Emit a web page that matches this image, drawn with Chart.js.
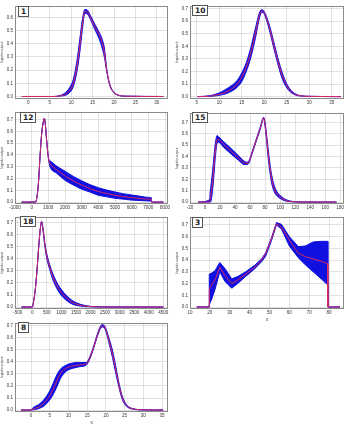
<!DOCTYPE html>
<html>
<head>
<meta charset="utf-8">
<script src="https://cdn.jsdelivr.net/npm/chart.js@4.4.1/dist/chart.umd.min.js"></script>
<style>
  body { margin: 0; background: #fff; width: 350px; height: 426px; position: relative; overflow: hidden; }
  canvas { position: absolute; }
  .tag { position: absolute; border: 1px solid #555; background: #fff; color: #222;
         font: bold 7.5px "DejaVu Sans", sans-serif; line-height: 9px; height: 9px; padding: 0 2px; }
</style>
</head>
<body>
<script>
// ---- data ----
const yTicks = [0, 0.1, 0.2, 0.3, 0.4, 0.5, 0.6, 0.7];

const p1Ticks = [0, 5, 10, 15, 20, 25, 30];
const p1X   = [-1.5, 6, 7.5, 8.5, 9.5, 10.5, 11.3, 12, 12.6, 13.2, 13.8, 14.5, 15.5, 16.5, 17.3, 17.8, 18.3, 19, 20, 21, 23, 31.5];
const p1Mid = [0, 0, 0.005, 0.015, 0.04, 0.1, 0.22, 0.38, 0.54, 0.645, 0.64, 0.6, 0.53, 0.47, 0.40, 0.32, 0.2, 0.09, 0.03, 0.01, 0.002, 0];
const p1Hi  = [0, 0, 0.008, 0.025, 0.06, 0.13, 0.26, 0.43, 0.58, 0.66, 0.655, 0.615, 0.55, 0.49, 0.43, 0.36, 0.21, 0.095, 0.032, 0.011, 0.002, 0];
const p1Lo  = [0, 0, 0.003, 0.008, 0.025, 0.075, 0.18, 0.33, 0.5, 0.63, 0.625, 0.585, 0.51, 0.44, 0.36, 0.29, 0.19, 0.085, 0.028, 0.009, 0.002, 0];

const p10Ticks = [5, 10, 15, 20, 25, 30, 35];
const p10X   = [5.2, 8, 10, 12, 14, 15, 16, 17, 18, 19, 19.5, 20, 21, 22, 23, 24, 25, 26, 27, 28, 30, 37];
const p10Mid = [0, 0.004, 0.018, 0.045, 0.1, 0.155, 0.235, 0.35, 0.5, 0.655, 0.68, 0.665, 0.565, 0.425, 0.285, 0.165, 0.085, 0.038, 0.015, 0.006, 0.002, 0];
const p10Hi  = [0, 0.008, 0.03, 0.07, 0.13, 0.19, 0.27, 0.39, 0.54, 0.675, 0.69, 0.675, 0.585, 0.45, 0.31, 0.19, 0.1, 0.048, 0.02, 0.008, 0.002, 0];
const p10Lo  = [0, 0.002, 0.01, 0.03, 0.075, 0.12, 0.2, 0.31, 0.46, 0.635, 0.67, 0.655, 0.545, 0.4, 0.26, 0.14, 0.07, 0.03, 0.011, 0.004, 0.002, 0];

const p12Ticks = [-1000, 0, 1000, 2000, 3000, 4000, 5000, 6000, 7000, 8000];
const p12X   = [-600, 240, 300, 400, 500, 600, 700, 760, 820, 900, 1000, 1050, 1100, 1500, 2000, 2500, 3000, 3500, 4000, 4500, 5000, 5500, 6000, 6500, 7000, 7180, 7200, 7900];
const p12Mid = [0, 0, 0.03, 0.15, 0.38, 0.58, 0.68, 0.71, 0.66, 0.52, 0.38, 0.34, 0.325, 0.275, 0.222, 0.18, 0.145, 0.115, 0.09, 0.073, 0.058, 0.047, 0.038, 0.031, 0.025, 0.023, 0, 0];
const p12Hi  = [0, 0, 0.03, 0.15, 0.38, 0.58, 0.68, 0.71, 0.66, 0.52, 0.385, 0.355, 0.35, 0.305, 0.262, 0.218, 0.18, 0.148, 0.122, 0.102, 0.086, 0.071, 0.06, 0.05, 0.04, 0.037, 0, 0];
const p12Lo  = [0, 0, 0.03, 0.15, 0.38, 0.58, 0.68, 0.71, 0.66, 0.52, 0.375, 0.33, 0.30, 0.245, 0.185, 0.145, 0.11, 0.085, 0.058, 0.045, 0.032, 0.025, 0.017, 0.013, 0.01, 0.009, 0, 0];

const p15Ticks = [-20, 0, 20, 40, 60, 80, 100, 120, 140, 160, 180];
const p15X   = [-9, 6, 7, 8, 10, 12, 14, 16, 18, 25, 35, 45, 52, 56, 59, 62, 66, 70, 74, 78, 80, 82, 84, 86, 88, 91, 95, 100, 106, 112, 120, 130, 175];
const p15Mid = [0, 0, 0.03, 0.07, 0.18, 0.33, 0.47, 0.55, 0.55, 0.505, 0.445, 0.385, 0.345, 0.34, 0.36, 0.42, 0.5, 0.58, 0.66, 0.74, 0.68, 0.56, 0.43, 0.32, 0.23, 0.14, 0.08, 0.045, 0.02, 0.008, 0.002, 0, 0];
const p15Hi  = [0, 0.02, 0.1, 0.15, 0.27, 0.41, 0.53, 0.585, 0.575, 0.53, 0.47, 0.405, 0.36, 0.35, 0.37, 0.43, 0.51, 0.59, 0.67, 0.745, 0.7, 0.59, 0.47, 0.36, 0.265, 0.17, 0.1, 0.058, 0.028, 0.012, 0.003, 0, 0];
const p15Lo  = [0, 0, 0, 0.01, 0.1, 0.25, 0.41, 0.515, 0.525, 0.48, 0.42, 0.365, 0.33, 0.33, 0.35, 0.41, 0.49, 0.57, 0.65, 0.735, 0.66, 0.53, 0.39, 0.28, 0.19, 0.11, 0.06, 0.032, 0.012, 0.004, 0.001, 0, 0];

const p18Ticks = [-500, 0, 500, 1000, 1500, 2000, 2500, 3000, 3500, 4000, 4500];
const p18X   = [-370, 0, 40, 100, 160, 220, 280, 320, 370, 430, 500, 600, 700, 800, 900, 1000, 1100, 1200, 1300, 1400, 1500, 1650, 1800, 2000, 2300, 4500];
const p18Mid = [0, 0, 0.04, 0.14, 0.3, 0.5, 0.66, 0.71, 0.64, 0.52, 0.42, 0.33, 0.255, 0.2, 0.155, 0.12, 0.092, 0.07, 0.05, 0.036, 0.026, 0.015, 0.009, 0.004, 0.001, 0];
const p18Hi  = [0, 0, 0.04, 0.14, 0.3, 0.5, 0.66, 0.71, 0.65, 0.535, 0.44, 0.35, 0.28, 0.225, 0.18, 0.145, 0.115, 0.09, 0.068, 0.05, 0.037, 0.023, 0.014, 0.006, 0.002, 0];
const p18Lo  = [0, 0, 0.04, 0.14, 0.3, 0.5, 0.66, 0.71, 0.63, 0.505, 0.40, 0.31, 0.23, 0.175, 0.13, 0.095, 0.07, 0.05, 0.033, 0.022, 0.015, 0.008, 0.004, 0.002, 0.0005, 0];

const p3Ticks = [10, 20, 30, 40, 50, 60, 70, 80];
const p3X   = [13.4, 19.6, 19.7, 21, 22.6, 25, 27.5, 31, 34, 38, 42.5, 46, 48, 51, 53.5, 56, 60, 64.5, 68, 72, 76, 79.2, 79.4, 85.5];
const p3Mid = [0, 0, 0.15, 0.19, 0.23, 0.34, 0.27, 0.2, 0.23, 0.28, 0.34, 0.4, 0.45, 0.58, 0.71, 0.68, 0.57, 0.46, 0.43, 0.41, 0.39, 0.37, 0, 0];
const p3Hi  = [0, 0, 0.28, 0.29, 0.31, 0.38, 0.33, 0.24, 0.26, 0.3, 0.355, 0.41, 0.46, 0.59, 0.72, 0.705, 0.6, 0.515, 0.52, 0.555, 0.56, 0.56, 0, 0];
const p3Lo  = [0, 0, 0.02, 0.07, 0.15, 0.3, 0.22, 0.16, 0.2, 0.26, 0.325, 0.385, 0.43, 0.565, 0.70, 0.665, 0.52, 0.42, 0.36, 0.3, 0.24, 0.19, 0, 0];

const p8Ticks = [0, 5, 10, 15, 20, 25, 30, 35];
const p8X   = [-2.7, 0, 0.5, 2, 3.5, 5, 6, 7, 8, 9.5, 11, 13, 14.8, 15.5, 16.5, 17.5, 18.3, 19, 19.8, 20.8, 21.8, 22.6, 23.4, 24.2, 25, 26, 27.5, 30, 35.3];
const p8Mid = [0, 0, 0.008, 0.025, 0.06, 0.12, 0.18, 0.25, 0.31, 0.35, 0.365, 0.375, 0.385, 0.42, 0.5, 0.6, 0.67, 0.7, 0.68, 0.58, 0.46, 0.34, 0.22, 0.12, 0.06, 0.025, 0.008, 0.002, 0];
const p8Hi  = [0, 0, 0.02, 0.045, 0.09, 0.16, 0.23, 0.3, 0.345, 0.375, 0.39, 0.395, 0.395, 0.43, 0.51, 0.61, 0.68, 0.71, 0.69, 0.6, 0.49, 0.37, 0.24, 0.135, 0.07, 0.03, 0.01, 0.002, 0];
const p8Lo  = [0, 0, 0.002, 0.012, 0.035, 0.085, 0.135, 0.2, 0.27, 0.325, 0.345, 0.36, 0.375, 0.41, 0.49, 0.59, 0.66, 0.69, 0.67, 0.56, 0.43, 0.31, 0.2, 0.105, 0.05, 0.02, 0.006, 0.001, 0];

// ---- layout: plot box [left, top, width, height] on the page ----
const panels = [
  { tag: "1",  x: p1X,  mid: p1Mid,  hi: p1Hi,  lo: p1Lo,  xt: p1Ticks,  xr: [-3.1, 32.6],  yr: [-0.019, 0.689], box: [15, 3, 153, 95.5],  tagPos: [18, 6] },
  { tag: "10", x: p10X, mid: p10Mid, hi: p10Hi, lo: p10Lo, xt: p10Ticks, xr: [3.5, 37.7],   yr: [-0.019, 0.723], box: [190, 3, 154, 95.5], tagPos: [192, 5] },
  { tag: "12", x: p12X, mid: p12Mid, hi: p12Hi, lo: p12Lo, xt: p12Ticks, xr: [-1000, 8180], yr: [-0.016, 0.766], box: [15, 109, 153, 95],  tagPos: [20, 112] },
  { tag: "15", x: p15X, mid: p15Mid, hi: p15Hi, lo: p15Lo, xt: p15Ticks, xr: [-20, 185],    yr: [-0.017, 0.786], box: [190, 110, 154, 94], tagPos: [192, 112] },
  { tag: "18", x: p18X, mid: p18Mid, hi: p18Hi, lo: p18Lo, xt: p18Ticks, xr: [-594, 4660],  yr: [-0.016, 0.75],  box: [15, 214, 153, 95],  tagPos: [20, 216] },
  { tag: "3",  x: p3X,  mid: p3Mid,  hi: p3Hi,  lo: p3Lo,  xt: p3Ticks,  xr: [10, 87.5],    yr: [-0.017, 0.77],  box: [190, 214, 154, 95], tagPos: [192, 217], straight: true, xTitle: true },
  { tag: "8",  x: p8X,  mid: p8Mid,  hi: p8Hi,  lo: p8Lo,  xt: p8Ticks,  xr: [-4.3, 36.6],  yr: [-0.016, 0.725], box: [15, 320, 153, 92],  tagPos: [18, 322], xTitle: true }
];

const BLUE = "rgb(16,16,225)";
const RED = "rgba(235,45,85,0.9)";
const tickFont = { family: "Liberation Sans", size: 4.5 };

const frame = {
  id: "frame",
  afterDraw(chart) {
    const a = chart.chartArea, ctx = chart.ctx;
    ctx.save();
    ctx.strokeStyle = "#8a8a8a";
    ctx.lineWidth = 1;
    ctx.strokeRect(Math.round(a.left) + 0.5, Math.round(a.top) + 0.5, Math.round(a.width) - 1, Math.round(a.height) - 1);
    ctx.restore();
  }
};

function makeChart(p) {
  const L = 15, T = 2, R = 4, B = p.xTitle ? 13 : 9;
  const c = document.createElement("canvas");
  c.width = Math.round(p.box[2] + L + R);
  c.height = Math.round(p.box[3] + T + B);
  c.style.left = (p.box[0] - L) + "px";
  c.style.top = (p.box[1] - T) + "px";
  document.body.appendChild(c);

  const pts = arr => p.x.map((x, i) => ({ x: x, y: arr[i] }));
  const line = p.straight ? { tension: 0 } : { tension: 0.4, cubicInterpolationMode: "monotone" };

  new Chart(c.getContext("2d"), {
    type: "line",
    data: {
      datasets: [
        { data: pts(p.mid), borderColor: RED, borderWidth: 1, fill: false },
        { data: pts(p.hi), borderColor: BLUE, borderWidth: 1, backgroundColor: BLUE, fill: "+1" },
        { data: pts(p.lo), borderColor: BLUE, borderWidth: 1, fill: false }
      ]
    },
    options: {
      responsive: false,
      animation: false,
      devicePixelRatio: 1,
      layout: { padding: { top: T, right: R, left: 0, bottom: 0 } },
      elements: { point: { radius: 0 }, line: line },
      plugins: { legend: { display: false }, tooltip: { enabled: false } },
      scales: {
        x: {
          type: "linear", min: p.xr[0], max: p.xr[1],
          afterFit: s => { s.height = B; },
          afterBuildTicks: s => { s.ticks = p.xt.filter(v => v >= s.min && v <= s.max).map(v => ({ value: v })); },
          ticks: { font: tickFont, color: "#333", padding: 1, maxRotation: 0, autoSkip: false, callback: v => String(v) },
          grid: { color: "#d9d9d9", lineWidth: 0.8, drawTicks: false },
          border: { display: false },
          title: { display: !!p.xTitle, text: "x", font: { family: "Liberation Sans", size: 4.5 }, color: "#333", padding: 0 }
        },
        y: {
          min: p.yr[0], max: p.yr[1],
          afterFit: s => { s.width = L; },
          afterBuildTicks: s => { s.ticks = yTicks.filter(v => v >= s.min && v <= s.max).map(v => ({ value: v })); },
          ticks: { font: tickFont, color: "#333", padding: 2, callback: v => v.toFixed(1) },
          grid: { color: "#d9d9d9", lineWidth: 0.8, drawTicks: false },
          border: { display: false },
          title: { display: true, text: "logistic output", font: { family: "Liberation Sans", size: 3.5 }, color: "#333", padding: 0 }
        }
      }
    },
    plugins: [frame]
  });

  const t = document.createElement("div");
  t.className = "tag";
  t.textContent = p.tag;
  t.style.left = p.tagPos[0] + "px";
  t.style.top = p.tagPos[1] + "px";
  document.body.appendChild(t);
}

panels.forEach(makeChart);
</script>
</body>
</html>
